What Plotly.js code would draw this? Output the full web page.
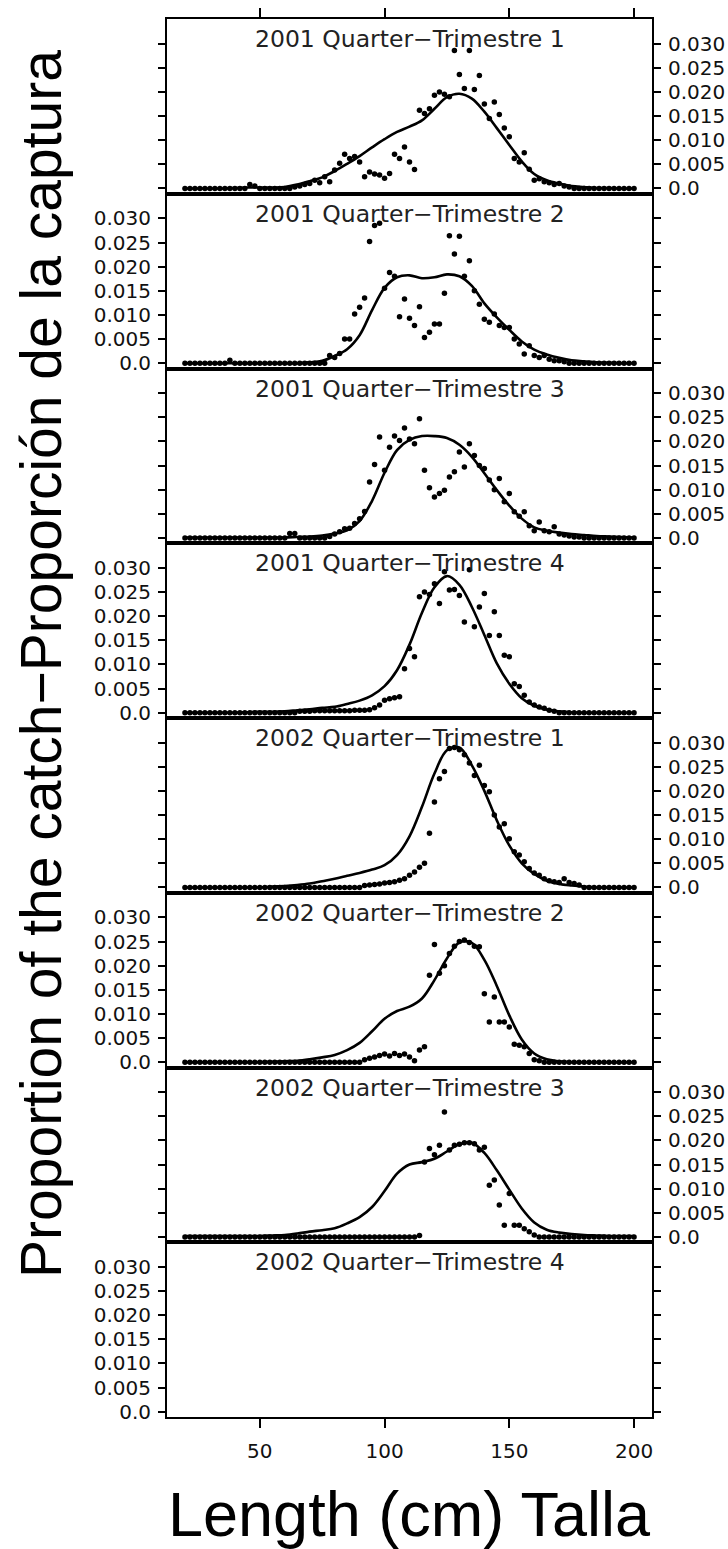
<!DOCTYPE html>
<html>
<head>
<meta charset="utf-8">
<script src="https://cdn.plot.ly/plotly-3.0.1.min.js"></script>
<style>
  html, body { margin: 0; padding: 0; background: #ffffff; }
  #chart { width: 728px; height: 1549px; }
</style>
</head>
<body>
<div id="chart"></div>
<script>
// Length-frequency of the catch by quarter: observed proportions (dots)
// and model-predicted proportions (line), 2001-2002.

const panelTitles = [
  "2001 Quarter\u2212Trimestre 1",
  "2001 Quarter\u2212Trimestre 2",
  "2001 Quarter\u2212Trimestre 3",
  "2001 Quarter\u2212Trimestre 4",
  "2002 Quarter\u2212Trimestre 1",
  "2002 Quarter\u2212Trimestre 2",
  "2002 Quarter\u2212Trimestre 3",
  "2002 Quarter\u2212Trimestre 4"
];

// Length bins (cm) of the observed samples
const lengths = [
  20, 22, 24, 26, 28, 30, 32, 34, 36, 38,
  40, 42, 44, 46, 48, 50, 52, 54, 56, 58,
  60, 62, 64, 66, 68, 70, 72, 74, 76, 78,
  80, 82, 84, 86, 88, 90, 92, 94, 96, 98,
  100, 102, 104, 106, 108, 110, 112, 114, 116, 118,
  120, 122, 124, 126, 128, 130, 132, 134, 136, 138,
  140, 142, 144, 146, 148, 150, 152, 154, 156, 158,
  160, 162, 164, 166, 168, 170, 172, 174, 176, 178,
  180, 182, 184, 186, 188, 190, 192, 194, 196, 198,
  200
];

// Lengths (cm) at which the predicted curve is given
const fitLengths = [
  20, 25, 30, 35, 40, 45, 50, 55, 60, 65,
  70, 75, 80, 85, 90, 95, 100, 105, 110, 115,
  120, 125, 130, 135, 140, 145, 150, 155, 160, 165,
  170, 175, 180, 185, 190, 195, 200
];

// Observed proportions, one value per length bin
const obs2001Q1 = [
  0, 0, 0, 0, 0, 0, 0, 0, 0, 0,
  0, 0, 0, 0.0008, 0.0005, 0, 0, 0, 0, 0,
  0, 0, 0.0003, 0.0005, 0.0008, 0.0010, 0.0017, 0.0012, 0.0024, 0.0014,
  0.0038, 0.0052, 0.0071, 0.0062, 0.0066, 0.0055, 0.0024, 0.0034, 0.0030, 0.0028,
  0.0021, 0.0031, 0.0071, 0.0062, 0.0086, 0.0055, 0.0039, 0.0162, 0.0155, 0.0165,
  0.0193, 0.0200, 0.0195, 0.0190, 0.0286, 0.0236, 0.0207, 0.0286, 0.0205, 0.0234,
  0.0175, 0.0145, 0.0179, 0.0153, 0.0125, 0.0107, 0.0062, 0.0055, 0.0074, 0.0040,
  0.0017, 0.0020, 0.0014, 0.0012, 0.0008, 0.0010, 0.0005, 0.0003, 0, 0,
  0, 0, 0, 0, 0, 0, 0, 0, 0, 0,
  0
];
const obs2001Q2 = [
  0, 0, 0, 0, 0, 0, 0, 0, 0, 0.0006,
  0, 0, 0, 0, 0, 0, 0, 0, 0, 0,
  0, 0, 0, 0, 0, 0, 0, 0, 0, 0.0016,
  0.0012, 0.0020, 0.0050, 0.0050, 0.0102, 0.0116, 0.0135, 0.0252, 0.0285, 0.0290,
  0.0155, 0.0188, 0.0180, 0.0096, 0.0133, 0.0093, 0.0078, 0.0117, 0.0053, 0.0064,
  0.0081, 0.0081, 0.0145, 0.0264, 0.0226, 0.0263, 0.0180, 0.0212, 0.0150, 0.0122,
  0.0091, 0.0085, 0.0102, 0.0078, 0.0074, 0.0074, 0.0050, 0.0040, 0.0019, 0.0036,
  0.0016, 0.0012, 0.0016, 0.0008, 0.0005, 0.0005, 0.0003, 0, 0, 0,
  0, 0, 0, 0, 0, 0, 0, 0, 0, 0,
  0
];
const obs2001Q3 = [
  0, 0, 0, 0, 0, 0, 0, 0, 0, 0,
  0, 0, 0, 0, 0, 0, 0, 0, 0, 0,
  0, 0.0009, 0.0009, 0, 0, 0, 0, 0, 0, 0.0003,
  0.0008, 0.0013, 0.0019, 0.0020, 0.0030, 0.0040, 0.0055, 0.0116, 0.0152, 0.0209,
  0.0140, 0.0188, 0.0211, 0.0202, 0.0228, 0.0205, 0.0195, 0.0247, 0.0140, 0.0104,
  0.0085, 0.0092, 0.0099, 0.0126, 0.0137, 0.0178, 0.0147, 0.0195, 0.0171, 0.0150,
  0.0144, 0.0120, 0.0100, 0.0123, 0.0075, 0.0092, 0.0054, 0.0045, 0.0054, 0.0025,
  0.0015, 0.0033, 0.0015, 0.0013, 0.0023, 0.0008, 0.0006, 0.0004, 0.0002, 0.0002,
  0, 0, 0, 0, 0, 0, 0, 0, 0, 0,
  0
];
const obs2001Q4 = [
  0, 0, 0, 0, 0, 0, 0, 0, 0, 0,
  0, 0, 0, 0, 0, 0, 0, 0, 0, 0,
  0, 0, 0, 0.0003, 0.0003, 0.0003, 0.0004, 0.0004, 0.0004, 0.0004,
  0.0004, 0.0004, 0.0004, 0.0004, 0.0005, 0.0005, 0.0005, 0.0006, 0.0010, 0.0016,
  0.0026, 0.0029, 0.0031, 0.0033, 0.0091, 0.0133, 0.0116, 0.0240, 0.0250, 0.0245,
  0.0267, 0.0226, 0.0292, 0.0254, 0.0255, 0.0243, 0.0188, 0.0296, 0.0178, 0.0219,
  0.0247, 0.0160, 0.0209, 0.0160, 0.0119, 0.0116, 0.0060, 0.0054, 0.0036, 0.0022,
  0.0016, 0.0012, 0.0009, 0.0005, 0.0003, 0, 0, 0, 0, 0,
  0, 0, 0, 0, 0, 0, 0, 0, 0, 0,
  0
];
const obs2002Q1 = [
  0, 0, 0, 0, 0, 0, 0, 0, 0, 0,
  0, 0, 0, 0, 0, 0, 0, 0, 0, 0,
  0, 0, 0, 0, 0, 0, 0, 0, 0, 0,
  0, 0, 0, 0, 0, 0, 0.0004, 0.0005, 0.0006, 0.0007,
  0.0009, 0.0010, 0.0012, 0.0015, 0.0018, 0.0025, 0.0032, 0.0042, 0.0050, 0.0112,
  0.0177, 0.0225, 0.0240, 0.0288, 0.0290, 0.0285, 0.0275, 0.0258, 0.0232, 0.0253,
  0.0211, 0.0198, 0.0150, 0.0125, 0.0132, 0.0101, 0.0074, 0.0067, 0.0053, 0.0039,
  0.0030, 0.0025, 0.0018, 0.0014, 0.0012, 0.0010, 0.0018, 0.0010, 0.0008, 0.0005,
  0, 0, 0, 0, 0, 0, 0, 0, 0, 0,
  0
];
const obs2002Q2 = [
  0, 0, 0, 0, 0, 0, 0, 0, 0, 0,
  0, 0, 0, 0, 0, 0, 0, 0, 0, 0,
  0, 0, 0, 0, 0, 0, 0, 0, 0, 0,
  0, 0, 0, 0, 0, 0, 0.0005, 0.0008, 0.0011, 0.0014,
  0.0017, 0.0013, 0.0018, 0.0014, 0.0017, 0.0011, 0.0003, 0.0025, 0.0032, 0.0180,
  0.0244, 0.0184, 0.0200, 0.0225, 0.0240, 0.0250, 0.0253, 0.0248, 0.0240, 0.0239,
  0.0142, 0.0083, 0.0135, 0.0083, 0.0083, 0.0073, 0.0037, 0.0035, 0.0032, 0.0018,
  0.0005, 0.0003, 0, 0, 0, 0, 0, 0, 0, 0,
  0, 0, 0, 0, 0, 0, 0, 0, 0, 0,
  0
];
const obs2002Q3 = [
  0, 0, 0, 0, 0, 0, 0, 0, 0, 0,
  0, 0, 0, 0, 0, 0, 0, 0, 0, 0,
  0, 0, 0, 0, 0, 0, 0, 0, 0, 0,
  0, 0, 0, 0, 0, 0, 0, 0, 0, 0,
  0, 0, 0, 0, 0, 0, 0, 0.0003, 0.0155, 0.0183,
  0.0170, 0.0190, 0.0259, 0.0180, 0.0190, 0.0192, 0.0195, 0.0195, 0.0193, 0.0180,
  0.0186, 0.0107, 0.0118, 0.0066, 0.0024, 0.0090, 0.0024, 0.0024, 0.0017, 0.0011,
  0.0004, 0, 0, 0, 0, 0, 0, 0, 0, 0,
  0, 0, 0, 0, 0, 0, 0, 0, 0, 0,
  0
];
// No samples in the last quarter
const obs2002Q4 = [];

// Predicted proportions at fitLengths
const fit2001Q1 = [
  0, 0, 0, 0, 0.0001, 0.0002, 0.0002, 0.0002, 0.0003, 0.0008,
  0.0015, 0.0023, 0.0036, 0.0051, 0.0067, 0.0085, 0.0102, 0.0117, 0.0128, 0.0141,
  0.0165, 0.0189, 0.0196, 0.0186, 0.0159, 0.0125, 0.0090, 0.0056, 0.0030, 0.0017,
  0.0010, 0.0005, 0.0003, 0.0001, 0.0001, 0, 0
];
const fit2001Q2 = [
  0, 0, 0, 0, 0, 0, 0, 0, 0, 0,
  0.0002, 0.0005, 0.0015, 0.0029, 0.0058, 0.0110, 0.0156, 0.0178, 0.0182, 0.0176,
  0.0178, 0.0184, 0.0180, 0.0160, 0.0124, 0.0095, 0.0069, 0.0045, 0.0028, 0.0018,
  0.0011, 0.0006, 0.0004, 0.0002, 0.0001, 0, 0
];
const fit2001Q3 = [
  0.0001, 0.0001, 0.0001, 0.0001, 0.0001, 0.0001, 0.0001, 0.0001, 0.0001, 0.0002,
  0.0003, 0.0005, 0.0009, 0.0016, 0.0035, 0.0077, 0.0135, 0.0182, 0.0203, 0.0211,
  0.0211, 0.0207, 0.0193, 0.0168, 0.0134, 0.0099, 0.0067, 0.0040, 0.0022, 0.0015,
  0.0011, 0.0008, 0.0006, 0.0004, 0.0003, 0.0002, 0.0001
];
const fit2001Q4 = [
  0, 0, 0, 0, 0, 0.0001, 0.0002, 0.0002, 0.0003, 0.0005,
  0.0007, 0.0010, 0.0012, 0.0018, 0.0025, 0.0036, 0.0055, 0.0088, 0.0141, 0.0207,
  0.0260, 0.0283, 0.0265, 0.0219, 0.0161, 0.0102, 0.0060, 0.0030, 0.0014, 0.0006,
  0.0003, 0.0001, 0, 0, 0, 0, 0
];
const fit2002Q1 = [
  0, 0, 0, 0, 0, 0, 0, 0.0002, 0.0003, 0.0005,
  0.0008, 0.0013, 0.0018, 0.0024, 0.0030, 0.0037, 0.0046, 0.0067, 0.0106, 0.0167,
  0.0236, 0.0284, 0.0290, 0.0253, 0.0200, 0.0139, 0.0087, 0.0050, 0.0028, 0.0014,
  0.0007, 0.0004, 0.0002, 0, 0, 0, 0
];
const fit2002Q2 = [
  0, 0, 0, 0, 0, 0, 0, 0.0001, 0.0002, 0.0003,
  0.0006, 0.0010, 0.0015, 0.0025, 0.0040, 0.0064, 0.0090, 0.0106, 0.0115, 0.0132,
  0.0170, 0.0215, 0.0248, 0.0247, 0.0212, 0.0158, 0.0097, 0.0047, 0.0018, 0.0006,
  0.0002, 0, 0, 0, 0, 0, 0
];
const fit2002Q3 = [
  0.0002, 0.0002, 0.0002, 0.0002, 0.0002, 0.0002, 0.0002, 0.0003, 0.0004, 0.0007,
  0.0011, 0.0014, 0.0018, 0.0028, 0.0041, 0.0062, 0.0095, 0.0131, 0.0150, 0.0155,
  0.0162, 0.0177, 0.0192, 0.0195, 0.0174, 0.0138, 0.0098, 0.0059, 0.0030, 0.0015,
  0.0009, 0.0006, 0.0004, 0.0003, 0.0002, 0.0002, 0.0002
];
const fit2002Q4 = [];

const observedByPanel = [obs2001Q1, obs2001Q2, obs2001Q3, obs2001Q4, obs2002Q1, obs2002Q2, obs2002Q3, obs2002Q4];
const fittedByPanel   = [fit2001Q1, fit2001Q2, fit2001Q3, fit2001Q4, fit2002Q1, fit2002Q2, fit2002Q3, fit2002Q4];

const yTickVals = [0, 0.005, 0.010, 0.015, 0.020, 0.025, 0.030];
const yTickText = ["0.0", "0.005", "0.010", "0.015", "0.020", "0.025", "0.030"];
const xTickVals = [50, 100, 150, 200];

const nPanels = panelTitles.length;
const tickFont = { family: "DejaVu Sans", size: 20, color: "#111111" };
const traces = [];
const layout = {
  width: 728,
  height: 1549,
  margin: { l: 167, r: 76, t: 19, b: 132, pad: 0 },
  paper_bgcolor: "#ffffff",
  plot_bgcolor: "#ffffff",
  showlegend: false,
  annotations: []
};

for (let k = 0; k < nPanels; k++) {
  const suffix = k === 0 ? "" : String(k + 1);
  const xName = "x" + suffix;
  const yName = "y" + suffix;
  const top = 1 - k / nPanels;
  const bottom = 1 - (k + 1) / nPanels;
  const isFirst = k === 0;
  const isLast = k === nPanels - 1;

  layout["xaxis" + suffix] = {
    anchor: yName,
    domain: [0, 1],
    range: [12.8, 207.2],
    showgrid: false,
    zeroline: false,
    showline: true,
    linecolor: "#000000",
    linewidth: 2,
    mirror: true,
    side: isFirst ? "top" : "bottom",
    ticks: (isFirst || isLast) ? "outside" : "",
    tickvals: xTickVals,
    ticklen: 9,
    tickwidth: 2,
    tickcolor: "#000000",
    showticklabels: isLast,
    tickfont: tickFont,
    ticklabelstandoff: 6,
    fixedrange: true
  };

  // Odd panels carry their labels on the right, even panels on the left
  const rightSide = (k % 2) === 0 && !isLast;
  layout["yaxis" + suffix] = {
    anchor: xName,
    domain: [bottom, top],
    range: [-0.0011, 0.0351],
    showgrid: false,
    zeroline: false,
    showline: true,
    linecolor: "#000000",
    linewidth: 2,
    mirror: "ticks",
    side: rightSide ? "right" : "left",
    ticks: "outside",
    ticklen: 7,
    tickwidth: 2,
    tickcolor: "#000000",
    tickvals: yTickVals,
    ticktext: yTickText,
    tickfont: tickFont,
    ticklabelstandoff: 3,
    fixedrange: true
  };

  layout.annotations.push({
    text: panelTitles[k],
    xref: "paper", yref: "paper",
    x: 0.5, y: top,
    xanchor: "center", yanchor: "middle",
    yshift: -20,
    showarrow: false,
    font: { family: "DejaVu Sans", size: 23.5, color: "#222222" }
  });

  traces.push({
    type: "scatter",
    mode: "lines",
    x: fitLengths.slice(0, fittedByPanel[k].length),
    y: fittedByPanel[k],
    xaxis: xName,
    yaxis: yName,
    line: { color: "#000000", width: 2.6, shape: "spline", smoothing: 1 },
    hoverinfo: "skip",
    cliponaxis: true
  });
  traces.push({
    type: "scatter",
    mode: "markers",
    x: lengths.slice(0, observedByPanel[k].length),
    y: observedByPanel[k],
    xaxis: xName,
    yaxis: yName,
    marker: { color: "#000000", size: 5.5, line: { width: 0 } },
    hoverinfo: "skip",
    cliponaxis: true
  });
}

// Shared axis titles
layout.annotations.push({
  text: "Length (cm) Talla",
  xref: "paper", yref: "paper",
  x: 0.5, y: 0,
  xanchor: "center", yanchor: "middle",
  yshift: -97,
  showarrow: false,
  font: { family: "Liberation Sans", size: 63, color: "#000000" }
});
layout.annotations.push({
  text: "Proportion of the catch\u2212Proporción de la captura",
  xref: "paper", yref: "paper",
  x: -0.2588, y: 0.539,
  xanchor: "center", yanchor: "middle",
  textangle: -90,
  showarrow: false,
  font: { family: "Liberation Sans", size: 57, color: "#000000" }
});

Plotly.newPlot("chart", traces, layout, { staticPlot: true, displayModeBar: false });
</script>
</body>
</html>
